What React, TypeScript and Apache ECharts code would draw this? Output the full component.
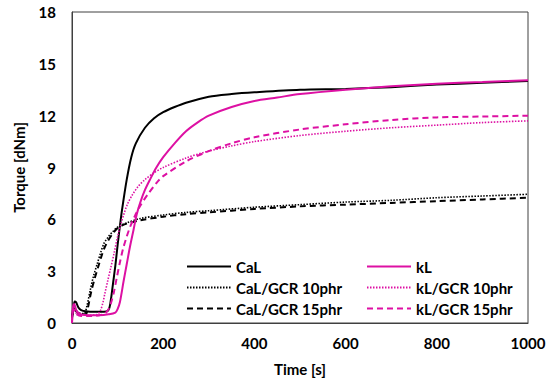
import React, { useEffect, useRef } from "react";
import * as echarts from "echarts";

const xTicks = [0, 200, 400, 600, 800, 1000];
const yTicks = [0, 3, 6, 9, 12, 15, 18];

const calT = [0, 3, 6, 9, 14, 20, 30, 50, 70, 80, 85, 90, 95, 100, 105, 110, 120, 130, 140, 160, 180, 200, 225, 250, 300, 350, 400, 500, 600, 700, 800, 900, 1000];
const calV = [0.3, 0.9, 1.25, 1.2, 0.9, 0.75, 0.68, 0.65, 0.65, 0.75, 1.3, 2.3, 3.3, 4.5, 5.6, 6.6, 8.3, 9.6, 10.4, 11.3, 11.85, 12.2, 12.5, 12.75, 13.1, 13.25, 13.35, 13.5, 13.55, 13.65, 13.8, 13.9, 14.0];

const cal10T = [0, 5, 10, 20, 27, 32, 40, 47, 55, 62, 70, 80, 90, 100, 120, 150, 200, 250, 300, 400, 500, 600, 700, 800, 900, 1000];
const cal10V = [0.3, 0.9, 0.7, 0.55, 0.55, 0.9, 1.9, 2.7, 3.4, 4.0, 4.6, 5.0, 5.3, 5.55, 5.8, 6.05, 6.25, 6.4, 6.5, 6.7, 6.85, 7.0, 7.1, 7.25, 7.35, 7.45];

const cal15T = [0, 5, 10, 20, 30, 35, 42, 50, 58, 65, 72, 80, 90, 100, 110, 120, 150, 200, 250, 300, 400, 500, 600, 700, 800, 900, 1000];
const cal15V = [0.3, 0.8, 0.65, 0.5, 0.5, 0.9, 1.8, 2.6, 3.3, 3.9, 4.4, 4.8, 5.2, 5.5, 5.65, 5.75, 5.95, 6.15, 6.3, 6.4, 6.6, 6.75, 6.85, 6.95, 7.05, 7.15, 7.25];

const klT = [0, 2, 5, 10, 20, 40, 60, 80, 95, 100, 105, 113, 120, 127, 135, 142, 150, 160, 171, 185, 200, 225, 250, 275, 300, 350, 400, 450, 500, 600, 700, 800, 900, 1000];
const klV = [0, 0.9, 1.1, 0.7, 0.5, 0.45, 0.45, 0.5, 0.6, 0.8, 1.2, 2.4, 3.4, 4.4, 5.4, 6.3, 7.0, 7.7, 8.3, 9.0, 9.6, 10.4, 11.1, 11.6, 12.0, 12.5, 12.85, 13.05, 13.25, 13.5, 13.7, 13.85, 13.95, 14.05];

const kl10T = [0, 3, 8, 20, 40, 55, 62, 68, 72, 78, 85, 92, 100, 108, 115, 122, 132, 145, 160, 180, 200, 250, 300, 350, 400, 500, 600, 700, 800, 900, 1000];
const kl10V = [0, 0.8, 0.6, 0.45, 0.45, 0.5, 0.7, 1.2, 1.7, 2.4, 3.2, 4.0, 5.0, 5.8, 6.4, 6.9, 7.4, 7.9, 8.3, 8.7, 9.0, 9.55, 9.95, 10.25, 10.5, 10.85, 11.1, 11.3, 11.45, 11.6, 11.7];

const kl15T = [0, 3, 8, 20, 40, 60, 72, 80, 86, 92, 98, 105, 112, 120, 128, 138, 150, 165, 185, 200, 250, 300, 350, 400, 500, 600, 700, 800, 900, 1000];
const kl15V = [0, 0.8, 0.55, 0.4, 0.4, 0.45, 0.55, 0.8, 1.2, 1.8, 2.6, 3.5, 4.3, 5.0, 5.6, 6.2, 6.8, 7.4, 8.1, 8.5, 9.35, 9.95, 10.4, 10.75, 11.2, 11.5, 11.75, 11.9, 11.95, 12.0];

const BLACK = "#000000";
const MAGENTA = "#DD10A3";
const FONT = "Lato";

function pairs(t: number[], v: number[]) {
  return t.map((x, i) => [x, v[i]]);
}

function line(name: string, t: number[], v: number[], color: string, type: any, width: number) {
  return {
    name,
    type: "line",
    data: pairs(t, v),
    showSymbol: false,
    symbol: "none",
    smooth: 0.3,
    lineStyle: { color, type, width },
    itemStyle: { color },
  };
}

export default function App() {
  const ref = useRef<HTMLDivElement>(null);
  useEffect(() => {
    document.body.style.margin = "0";
    if (!ref.current) return;
    const chart = echarts.init(ref.current, undefined, { renderer: "svg" });
    const legendText = { fontFamily: FONT, fontWeight: "bold", fontSize: 15, color: "#000" };
    const legendBase = {
      orient: "vertical",
      top: 259,
      itemWidth: 44,
      itemHeight: 14,
      itemGap: 6,
      padding: 0,
      itemStyle: { opacity: 0 },
      textStyle: legendText,
    };
    chart.setOption({
      animation: false,
      backgroundColor: "#fff",
      grid: { left: 72, top: 12, right: 22, bottom: 63, show: true, borderColor: "#404040", borderWidth: 1 },
      xAxis: {
        type: "value",
        min: xTicks[0],
        max: xTicks[xTicks.length - 1],
        interval: 200,
        name: "Time [s]",
        nameLocation: "middle",
        nameGap: 38,
        nameTextStyle: { fontFamily: FONT, fontWeight: "bold", fontSize: 15, color: "#000" },
        axisLine: { show: true, lineStyle: { color: "#404040", width: 1 } },
        axisTick: { show: false },
        splitLine: { show: false },
        axisLabel: {
          margin: 12,
          fontFamily: FONT,
          fontWeight: "bold",
          fontSize: 15,
          color: "#000",
          formatter: (v: number) => String(v),
        },
      },
      yAxis: {
        type: "value",
        min: yTicks[0],
        max: yTicks[yTicks.length - 1],
        interval: 3,
        name: "Torque [dNm]",
        nameLocation: "middle",
        nameGap: 46,
        nameTextStyle: { fontFamily: FONT, fontWeight: "bold", fontSize: 15, color: "#000" },
        axisLine: { show: true, lineStyle: { color: "#404040", width: 1 } },
        axisTick: { show: false },
        splitLine: { show: false },
        axisLabel: {
          margin: 16,
          fontFamily: FONT,
          fontWeight: "bold",
          fontSize: 15,
          color: "#000",
          formatter: (v: number) => String(v),
        },
      },
      legend: [
        { ...legendBase, data: ["CaL", "CaL/GCR 10phr", "CaL/GCR 15phr"], left: 186 },
        { ...legendBase, data: ["kL", "kL/GCR 10phr", "kL/GCR 15phr"], left: 366 },
      ],
      series: [
        line("CaL", calT, calV, BLACK, "solid", 2),
        line("CaL/GCR 10phr", cal10T, cal10V, BLACK, [1.5, 1.5], 1.6),
        line("CaL/GCR 15phr", cal15T, cal15V, BLACK, [6, 4], 2),
        line("kL", klT, klV, MAGENTA, "solid", 2),
        line("kL/GCR 10phr", kl10T, kl10V, MAGENTA, [1.5, 1.5], 1.6),
        line("kL/GCR 15phr", kl15T, kl15V, MAGENTA, [6, 4], 2),
      ],
    });
    return () => chart.dispose();
  }, []);
  return <div ref={ref} style={{ width: 550, height: 386 }} />;
}
